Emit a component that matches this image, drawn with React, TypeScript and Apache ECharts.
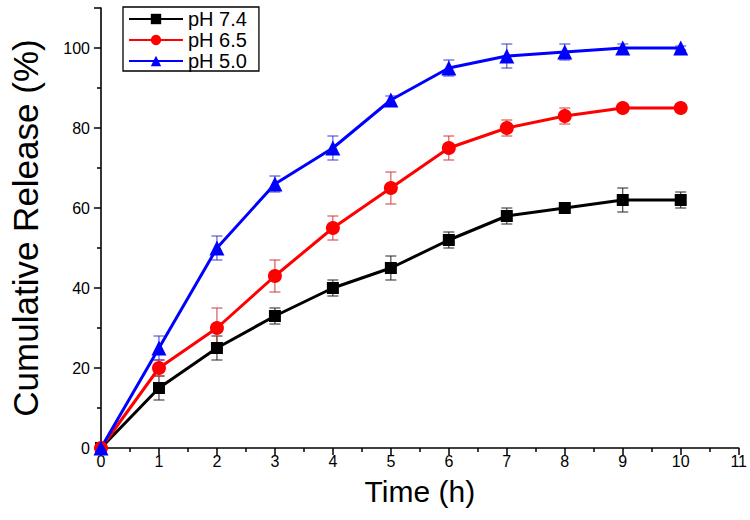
import React, { useEffect, useRef } from "react";
import * as echarts from "echarts";

const times = [0, 1, 2, 3, 4, 5, 6, 7, 8, 9, 10];
const ph74 = [0, 15, 25, 33, 40, 45, 52, 58, 60, 62, 62];
const ph74Err = [0, 3, 3, 2, 2, 3, 2, 2, 0.5, 3, 2];
const ph65 = [0, 20, 30, 43, 55, 65, 75, 80, 83, 85, 85];
const ph65Err = [0, 2, 5, 4, 3, 4, 3, 2, 2, 0, 0];
const ph50 = [0, 25, 50, 66, 75, 87, 95, 98, 99, 100, 100];
const ph50Err = [0, 3, 3, 2, 3, 1, 2, 3, 2, 1, 0.5];
const seriesNames = ["pH 7.4", "pH 6.5", "pH 5.0"];
const xTicks = ["0", "1", "2", "3", "4", "5", "6", "7", "8", "9", "10", "11"];

const FONT = "Liberation Sans, Arial, sans-serif";

function errSeries(name: string, vals: number[], errs: number[], color: string) {
  const data = times.map((t, i) => [t, vals[i] - errs[i], vals[i] + errs[i]]);
  return {
    type: "custom",
    name: name + " err",
    z: 1,
    silent: true,
    renderItem: (params: any, api: any) => {
      const x = api.value(0);
      const lo = api.coord([x, api.value(1)]);
      const hi = api.coord([x, api.value(2)]);
      const w = 5.5;
      const style = { stroke: color, lineWidth: 1 };
      if (Math.abs(hi[1] - lo[1]) < 0.5) return null;
      return {
        type: "group",
        children: [
          { type: "line", shape: { x1: lo[0], y1: lo[1], x2: hi[0], y2: hi[1] }, style },
          { type: "line", shape: { x1: lo[0] - w, y1: lo[1], x2: lo[0] + w, y2: lo[1] }, style },
          { type: "line", shape: { x1: hi[0] - w, y1: hi[1], x2: hi[0] + w, y2: hi[1] }, style },
        ],
      };
    },
    encode: { x: 0, y: [1, 2] },
    data,
  };
}

function lineSeries(name: string, vals: number[], color: string, symbol: string, size: number) {
  return {
    type: "line",
    name,
    z: 3,
    data: times.map((t, i) => [t, vals[i]]),
    symbol,
    symbolSize: size,
    showAllSymbol: true,
    lineStyle: { color, width: 3 },
    itemStyle: { color },
  };
}

export default function App() {
  const ref = useRef<HTMLDivElement>(null);
  useEffect(() => {
    if (!ref.current) return;
    const chart = echarts.init(ref.current, null, { renderer: "svg" });
    chart.setOption({
      animation: false,
      backgroundColor: "#ffffff",
      textStyle: { fontFamily: FONT },
      grid: { left: 100, right: 7, top: 8, bottom: 72, containLabel: false },
      legend: {
        data: seriesNames,
        orient: "vertical",
        left: 123,
        top: 7,
        itemWidth: 54,
        itemHeight: 13,
        itemGap: 1,
        padding: [2, 12, 0, 5],
        borderColor: "#000",
        borderWidth: 1.3,
        backgroundColor: "#fff",
        textStyle: { fontFamily: FONT, fontSize: 20, color: "#000" },
      },
      xAxis: {
        type: "value",
        min: 0,
        max: 11,
        interval: 1,
        name: "Time (h)",
        nameLocation: "middle",
        nameGap: 28,
        nameTextStyle: { fontFamily: FONT, fontSize: 30, color: "#000" },
        axisLine: { show: true, onZero: false, lineStyle: { color: "#000", width: 1.6 } },
        axisTick: { show: true, inside: false, length: 7, lineStyle: { color: "#000", width: 1.5 } },
        minorTick: { show: true, splitNumber: 2, length: 4, lineStyle: { color: "#000", width: 1.5 } },
        axisLabel: {
          fontFamily: FONT,
          fontSize: 16,
          color: "#000",
          margin: 5,
          formatter: (v: number) => xTicks[Math.round(v)] ?? "",
        },
        splitLine: { show: false },
      },
      yAxis: {
        type: "value",
        min: 0,
        max: 110,
        interval: 20,
        name: "Cumulative Release (%)",
        nameLocation: "middle",
        nameGap: 58,
        nameTextStyle: { fontFamily: FONT, fontSize: 35, color: "#000" },
        axisLine: { show: true, onZero: false, lineStyle: { color: "#000", width: 1.6 } },
        axisTick: { show: true, inside: false, length: 7, lineStyle: { color: "#000", width: 1.5 } },
        minorTick: { show: true, splitNumber: 2, length: 4, lineStyle: { color: "#000", width: 1.5 } },
        axisLabel: {
          fontFamily: FONT,
          fontSize: 16,
          color: "#000",
          margin: 11,
          formatter: (v: number) => (v > 100 ? "" : String(v)),
        },
        splitLine: { show: false },
      },
      series: [
        errSeries(seriesNames[0], ph74, ph74Err, "#222222"),
        errSeries(seriesNames[1], ph65, ph65Err, "#d03838"),
        errSeries(seriesNames[2], ph50, ph50Err, "#3838d0"),
        lineSeries(seriesNames[0], ph74, "#000000", "rect", 12),
        lineSeries(seriesNames[1], ph65, "#ff0000", "circle", 14),
        lineSeries(seriesNames[2], ph50, "#0000ff", "triangle", 15),
      ],
    });
    return () => chart.dispose();
  }, []);
  return <div ref={ref} style={{ width: 750, height: 520, position: "absolute", left: 0, top: 0 }} />;
}
